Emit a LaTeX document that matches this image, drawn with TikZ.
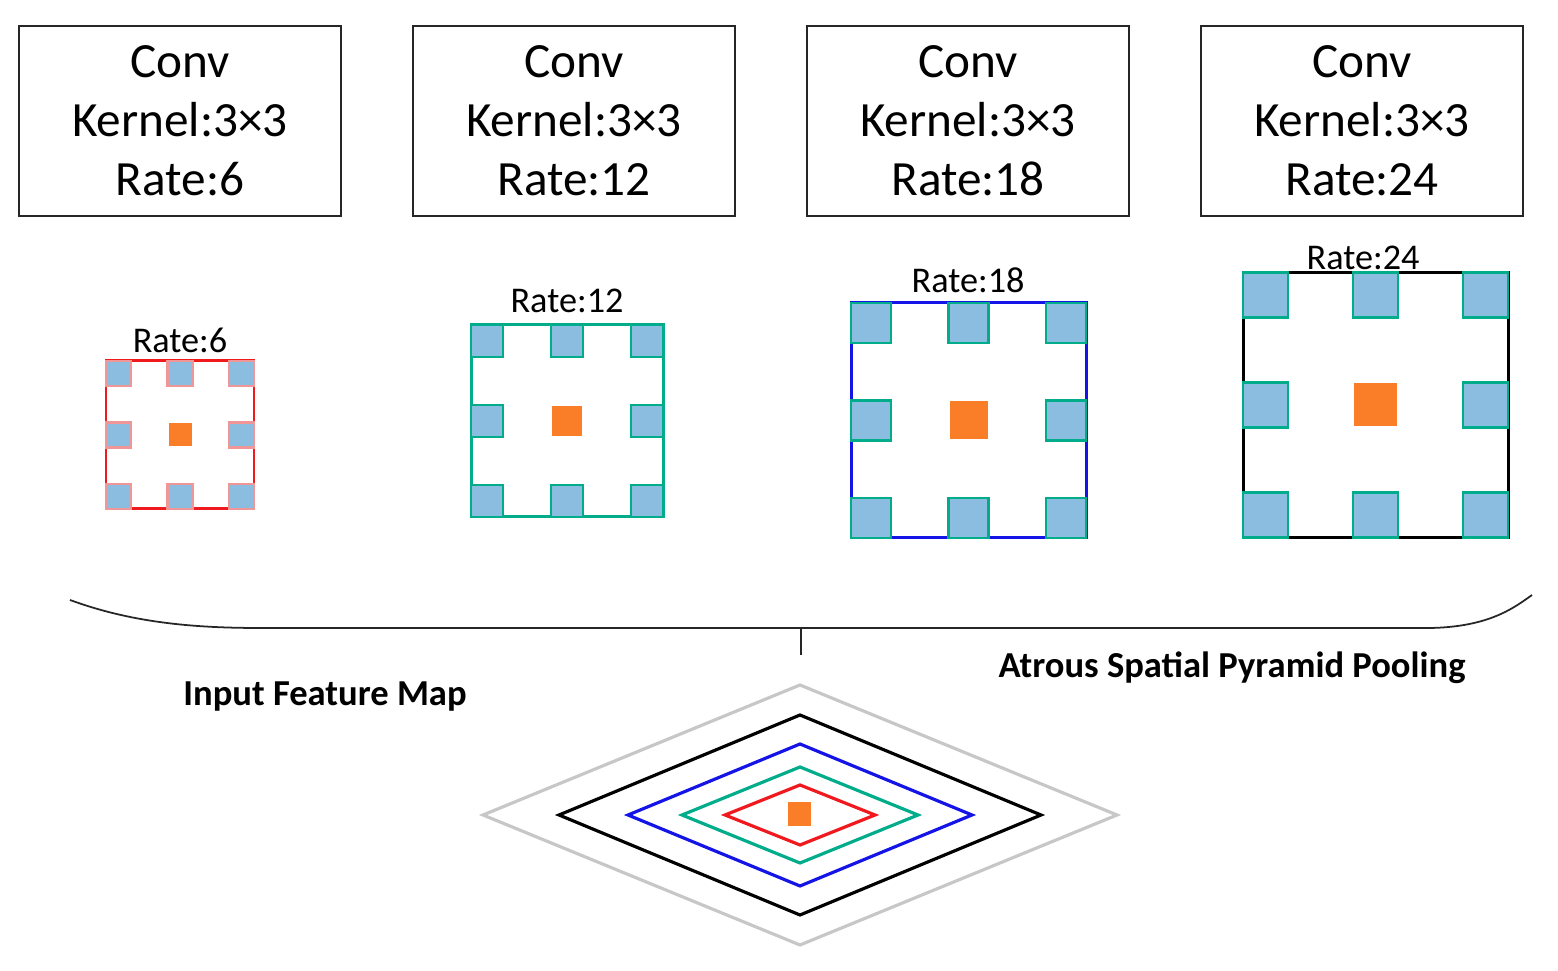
\documentclass[tikz,border=0pt]{standalone}
\usepackage{fontspec}
\setmainfont{Carlito}
\usetikzlibrary{positioning}
\definecolor{tapblue}{RGB}{138,189,224}
\definecolor{taporange}{RGB}{250,126,40}
\definecolor{tapgreen}{RGB}{0,172,138}
\definecolor{tappink}{RGB}{240,150,150}
\definecolor{rateblue}{RGB}{20,20,230}
\definecolor{ratered}{RGB}{240,25,30}
\tikzstyle{conv box}=[draw=black!85,line width=0.5pt,minimum width=3.22cm,minimum height=1.9cm,inner sep=0pt,align=center,font=\fontsize{14}{16.8}\selectfont]
\tikzstyle{rate label}=[anchor=base,inner sep=0pt,font=\fontsize{10.3}{12}\selectfont]
\tikzstyle{big label}=[inner sep=0pt,font=\bfseries\fontsize{10.4}{12}\selectfont]
\tikzstyle{kernel frame}=[line width=0.85pt]
\tikzstyle{tap}=[fill=tapblue,line width=0.6pt]
\tikzstyle{ring}=[line width=0.9pt]
\tikzstyle{brace line}=[draw=black!85,line width=0.5pt]

\begin{document}
\begin{tikzpicture}[x=0.01cm,y=-0.01cm]
    \useasboundingbox (0,0) rectangle (1558,971);

    % Conv boxes along the top
    \foreach \x/\r in {180/6, 574/12, 968/18, 1362/24}
        \node[conv box] (conv\r) at (\x,121) {Conv\\Kernel:3×3\\Rate:\r};

    % Kernel grids: centre, half size, tap size, colours, rate, label
    \foreach \cx/\cy/\h/\s/\col/\bd/\r/\lx/\ly in {180/435/74/25/ratered/tappink/6/180/353,
        567/421/96/32/tapgreen/tapgreen/12/567/313,
        968.5/420.5/117.5/40/rateblue/tapgreen/18/968/293,
        1375.5/405/132.5/45/black/tapgreen/24/1363/270} {
        \draw[kernel frame,\col] ({\cx-\h},{\cy-\h}) rectangle ({\cx+\h},{\cy+\h});
        \foreach \i/\j in {-1/-1, 0/-1, 1/-1, -1/0, 1/0, -1/1, 0/1, 1/1}
            \filldraw[tap,draw=\bd] ({\cx+\i*(\h-\s/2)-\s/2},{\cy+\j*(\h-\s/2)-\s/2}) rectangle ++(\s,\s);
        \fill[taporange] ({\cx-\s/2+1},{\cy-\s/2+1}) rectangle ++({\s-2},{\s-2});
        \node[rate label] (rate\r) at (\lx,\ly) {Rate:\r};
    }

    % Brace under the grids
    \coordinate (brace tip) at (801,628);
    \coordinate (brace end) at (801,655);
    \path[brace line] (70,600) .. controls (130,622) and (190,628) .. (260,628)
        -- (1430,628) .. controls (1490,627) and (1515,607) .. (1532,595);
    \path[brace line] (brace tip) -- (brace end);

    \node[big label] (aspp) at (1232,668) {Atrous Spatial Pyramid Pooling};
    \node[big label] (input) at (325,697) {Input Feature Map};

    % Input feature map with the nested fields of view
    \coordinate (fm) at (800,815);
    \foreach \w/\hh/\col in {317/130/black!22, 241/100/black, 172/71/rateblue, 118/48/tapgreen, 75/30/ratered}
        \draw[ring,\col] ({800-\w},815) -- (800,{815-\hh}) -- ({800+\w},815) -- (800,{815+\hh}) -- cycle;
    \fill[taporange] (788,802) rectangle (811,826);
\end{tikzpicture}
\end{document}
